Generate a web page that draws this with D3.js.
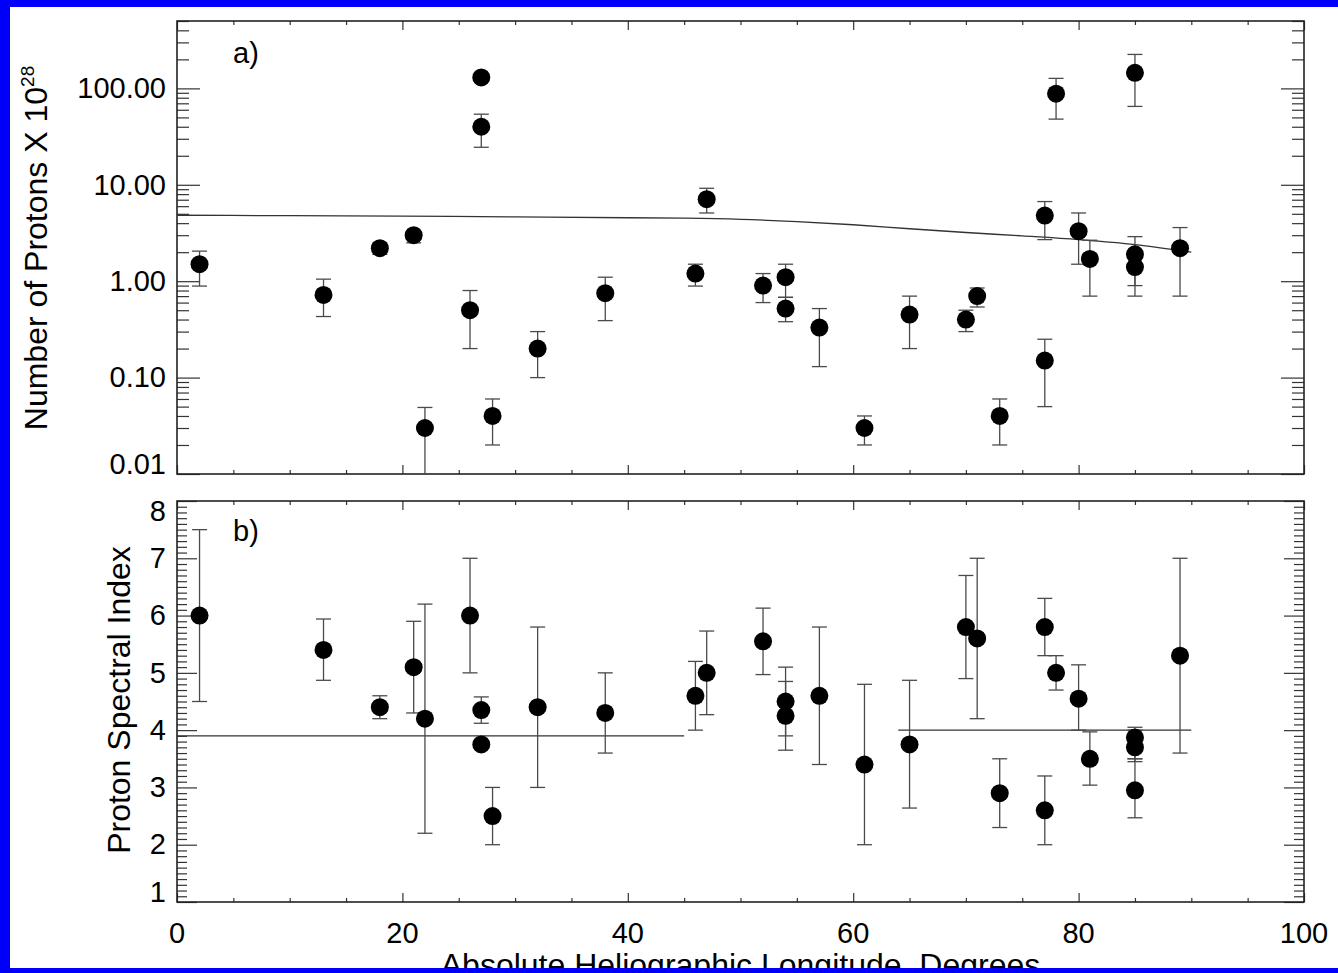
<!DOCTYPE html>
<html>
<head>
<meta charset="utf-8">
<script src="https://cdn.jsdelivr.net/npm/d3@7/dist/d3.min.js"></script>
<style>
  html, body { margin: 0; padding: 0; background: #fff; overflow: hidden; }
  svg { display: block; }
  svg text { font-family: "Liberation Sans", Arial, Helvetica, sans-serif; fill: #000; }
</style>
</head>
<body>
<svg width="1338" height="973"></svg>
<script>
// longitudes of the events (same for both panels)
var longitude = [2, 13, 18, 21, 22, 26, 27, 27, 28, 32, 38, 46, 47, 52, 54, 54, 57, 61, 65, 70, 71, 73, 77, 77, 78, 80, 81, 85, 85, 85, 89];

// panel a) number of protons x 10^28 with error range
var protons   = [1.5, 0.72, 2.2, 3.0, 0.03, 0.5, 130, 40, 0.04, 0.2, 0.75, 1.2, 7.1, 0.9, 1.1, 0.52, 0.33, 0.03, 0.45, 0.4, 0.7, 0.04, 0.15, 4.8, 88, 3.3, 1.7, 145, 1.9, 1.4, 2.2];
var protonsLo = [0.89, 0.43, 1.9, 2.5, 0.005, 0.2, null, 24.5, 0.02, 0.1, 0.39, 0.89, 5.1, 0.6, 0.68, 0.38, 0.13, 0.02, 0.2, 0.3, 0.54, 0.02, 0.05, 2.7, 48, 1.5, 0.7, 65, 0.9, 0.7, 0.7];
var protonsHi = [2.05, 1.05, 2.5, 3.3, 0.049, 0.8, null, 54, 0.06, 0.3, 1.1, 1.5, 9.2, 1.2, 1.5, 0.68, 0.52, 0.04, 0.7, 0.5, 0.85, 0.06, 0.25, 6.7, 127, 5.1, 2.66, 225, 2.9, 2.0, 3.6];

// fitted curve in panel a)
var fitLonA = [0, 10, 20, 30, 40, 45, 50, 55, 60, 65, 70, 75, 80, 85, 90];
var fitValA = [4.83, 4.78, 4.72, 4.65, 4.55, 4.5, 4.38, 4.15, 3.85, 3.5, 3.2, 2.95, 2.7, 2.4, 2.0];

// panel b) proton spectral index with error range
var index   = [6.0, 5.4, 4.4, 5.1, 4.2, 6.0, 4.35, 3.75, 2.5, 4.4, 4.3, 4.6, 5.0, 5.55, 4.5, 4.25, 4.6, 3.4, 3.75, 5.8, 5.6, 2.9, 5.8, 2.6, 5.0, 4.55, 3.5, 3.87, 3.7, 2.95, 5.3];
var indexLo = [4.5, 4.87, 4.2, 4.3, 2.2, 5.0, 4.12, null, 2.0, 3.0, 3.6, 4.0, 4.27, 4.97, 3.9, 3.65, 3.4, 2.0, 2.64, 4.9, 4.2, 2.3, 5.3, 2.0, 4.7, 4.0, 3.04, 3.45, 3.5, 2.47, 3.6];
var indexHi = [7.5, 5.94, 4.6, 5.9, 6.2, 7.0, 4.58, null, 3.0, 5.8, 5.0, 5.2, 5.73, 6.13, 5.1, 4.85, 5.8, 4.8, 4.87, 6.7, 7.0, 3.5, 6.3, 3.2, 5.3, 5.14, 3.97, 4.05, 4.0, 3.5, 7.0];

// two flat fits in panel b)
var fitLonB = [[0, 45], [64, 90]];
var fitValB = [3.9, 4.0];

// tick values
var xMajor = [0, 20, 40, 60, 80, 100];
var xMinor = d3.range(0, 101, 5).filter(function (d) { return d % 20 !== 0; });
var yAMajor = [0.01, 0.1, 1, 10, 100];
var yAMinor = [];
yAMajor.forEach(function (d) {
    for (var k = 2; k <= 9; k++) { if (d * k <= 500) yAMinor.push(d * k); }
});
var yBMajor = [1, 2, 3, 4, 5, 6, 7, 8];
var yBMinor = d3.range(10, 81).map(function (d) { return d / 10; }).filter(function (d) { return d % 1 !== 0; });

var svg = d3.select("svg");
var left = 177, right = 1304;
var width = right - left;

svg.append("rect").attr("width", 1338).attr("height", 973).attr("fill", "#fff");

var x = d3.scaleLinear().domain([0, 100]).range([0, width]);

function drawPanel(top, bottom, y, major, minor, majorLen, minorLen, fmt, id) {
    var height = bottom - top;
    var g = svg.append("g").attr("transform", "translate(" + left + "," + top + ")");

    g.append("clipPath").attr("id", id)
        .append("rect").attr("width", width).attr("height", height);

    // y axes, ticks pointing inwards
    var yl = g.append("g").call(d3.axisLeft(y).tickValues(major).tickSize(-majorLen).tickSizeOuter(0).tickPadding(11).tickFormat(fmt));
    yl.selectAll(".tick text").attr("font-size", 29).attr("font-family", null);
    yl.selectAll(".tick text").filter(function (d) { return y(d) < 10; }).attr("y", 10);
    yl.selectAll(".tick text").filter(function (d) { return y(d) > height - 10; }).attr("y", -10);
    g.append("g").call(d3.axisLeft(y).tickValues(minor).tickSize(-minorLen).tickSizeOuter(0).tickFormat(""));
    g.append("g").attr("transform", "translate(" + width + ",0)")
        .call(d3.axisRight(y).tickValues(major).tickSize(-majorLen).tickSizeOuter(0).tickFormat(""));
    g.append("g").attr("transform", "translate(" + width + ",0)")
        .call(d3.axisRight(y).tickValues(minor).tickSize(-minorLen).tickSizeOuter(0).tickFormat(""));

    // x axes top and bottom
    g.append("g").call(d3.axisTop(x).tickValues(xMajor).tickSize(-9).tickSizeOuter(0).tickFormat(""));
    g.append("g").call(d3.axisTop(x).tickValues(xMinor).tickSize(-4).tickSizeOuter(0).tickFormat(""));
    g.append("g").attr("transform", "translate(0," + height + ")")
        .call(d3.axisBottom(x).tickValues(xMajor).tickSize(-9).tickSizeOuter(0).tickFormat(""));
    g.append("g").attr("transform", "translate(0," + height + ")")
        .call(d3.axisBottom(x).tickValues(xMinor).tickSize(-4).tickSizeOuter(0).tickFormat(""));

    g.selectAll(".domain").remove();
    g.selectAll(".tick line").attr("stroke", "#333").attr("stroke-width", 1.2);

    g.append("rect")
        .attr("width", width).attr("height", height)
        .attr("fill", "none").attr("stroke", "#222").attr("stroke-width", 1.6);

    var plot = g.append("g").attr("clip-path", "url(#" + id + ")");
    return { g: g, plot: plot, height: height };
}

function drawPoints(plot, y, vals, lo, hi) {
    var data = longitude.map(function (d, i) { return { lon: d, v: vals[i], lo: lo[i], hi: hi[i] }; });
    var bars = data.filter(function (d) { return d.lo !== null; });

    plot.selectAll(".bar").data(bars).enter().append("line")
        .attr("x1", function (d) { return x(d.lon); })
        .attr("x2", function (d) { return x(d.lon); })
        .attr("y1", function (d) { return y(d.lo); })
        .attr("y2", function (d) { return y(d.hi); })
        .attr("stroke", "#4a4a4a").attr("stroke-width", 1.3);

    bars.forEach(function (d) {
        [d.lo, d.hi].forEach(function (e) {
            plot.append("line")
                .attr("x1", x(d.lon) - 7.5).attr("x2", x(d.lon) + 7.5)
                .attr("y1", y(e)).attr("y2", y(e))
                .attr("stroke", "#4a4a4a").attr("stroke-width", 1.3);
        });
    });

    plot.selectAll(".dot").data(data).enter().append("circle")
        .attr("cx", function (d) { return x(d.lon); })
        .attr("cy", function (d) { return y(d.v); })
        .attr("r", 9)
        .attr("fill", "#000");
}

// panel a)
var yA = d3.scaleLog().domain([0.01, 500]).range([474 - 21, 0]);
var pa = drawPanel(21, 474, yA, yAMajor, yAMinor, 23, 12, d3.format(".2f"), "clipA");

var line = d3.line()
    .x(function (d) { return x(d[0]); })
    .y(function (d) { return yA(d[1]); })
    .curve(d3.curveMonotoneX);

pa.plot.append("path")
    .datum(fitLonA.map(function (d, i) { return [d, fitValA[i]]; }))
    .attr("fill", "none")
    .attr("stroke", "#333")
    .attr("stroke-width", 1.3)
    .attr("d", line);

drawPoints(pa.plot, yA, protons, protonsLo, protonsHi);

pa.g.append("text").attr("x", 56).attr("y", 42).attr("font-size", 29).text("a)");

// panel b)
var yB = d3.scaleLinear().domain([1, 8]).range([902 - 501, 0]);
var pb = drawPanel(501, 902, yB, yBMajor, yBMinor, 20, 10, d3.format("d"), "clipB");

fitLonB.forEach(function (seg, i) {
    pb.plot.append("line")
        .attr("x1", x(seg[0])).attr("x2", x(seg[1]))
        .attr("y1", yB(fitValB[i])).attr("y2", yB(fitValB[i]))
        .attr("stroke", "#333").attr("stroke-width", 1.3);
});

drawPoints(pb.plot, yB, index, indexLo, indexHi);

pb.g.append("text").attr("x", 56).attr("y", 40).attr("font-size", 29).text("b)");

// x tick labels under panel b
pb.g.append("g").attr("transform", "translate(0," + pb.height + ")")
    .selectAll("text").data(xMajor).enter().append("text")
    .attr("x", function (d) { return x(d); })
    .attr("y", 41)
    .attr("text-anchor", "middle")
    .attr("font-size", 29)
    .text(function (d) { return d; });

// axis titles
var ta = svg.append("text")
    .attr("transform", "translate(47,248) rotate(-90)")
    .attr("text-anchor", "middle")
    .attr("font-size", 32);
ta.append("tspan").text("Number of Protons X 10");
ta.append("tspan").attr("dy", -13).attr("font-size", 19).text("28");

svg.append("text")
    .attr("transform", "translate(130,700) rotate(-90)")
    .attr("text-anchor", "middle")
    .attr("font-size", 32)
    .text("Proton Spectral Index");

svg.append("text")
    .attr("x", left + x(50))
    .attr("y", 976)
    .attr("text-anchor", "middle")
    .attr("font-size", 32)
    .text("Absolute Heliographic Longitude, Degrees");

// blue border
svg.append("rect").attr("x", 0).attr("y", 0).attr("width", 10).attr("height", 973).attr("fill", "#0000fa");
svg.append("rect").attr("x", 0).attr("y", 0).attr("width", 1338).attr("height", 7).attr("fill", "#0000fa");
svg.append("rect").attr("x", 0).attr("y", 968).attr("width", 1338).attr("height", 5).attr("fill", "#0000fa");
</script>
</body>
</html>
